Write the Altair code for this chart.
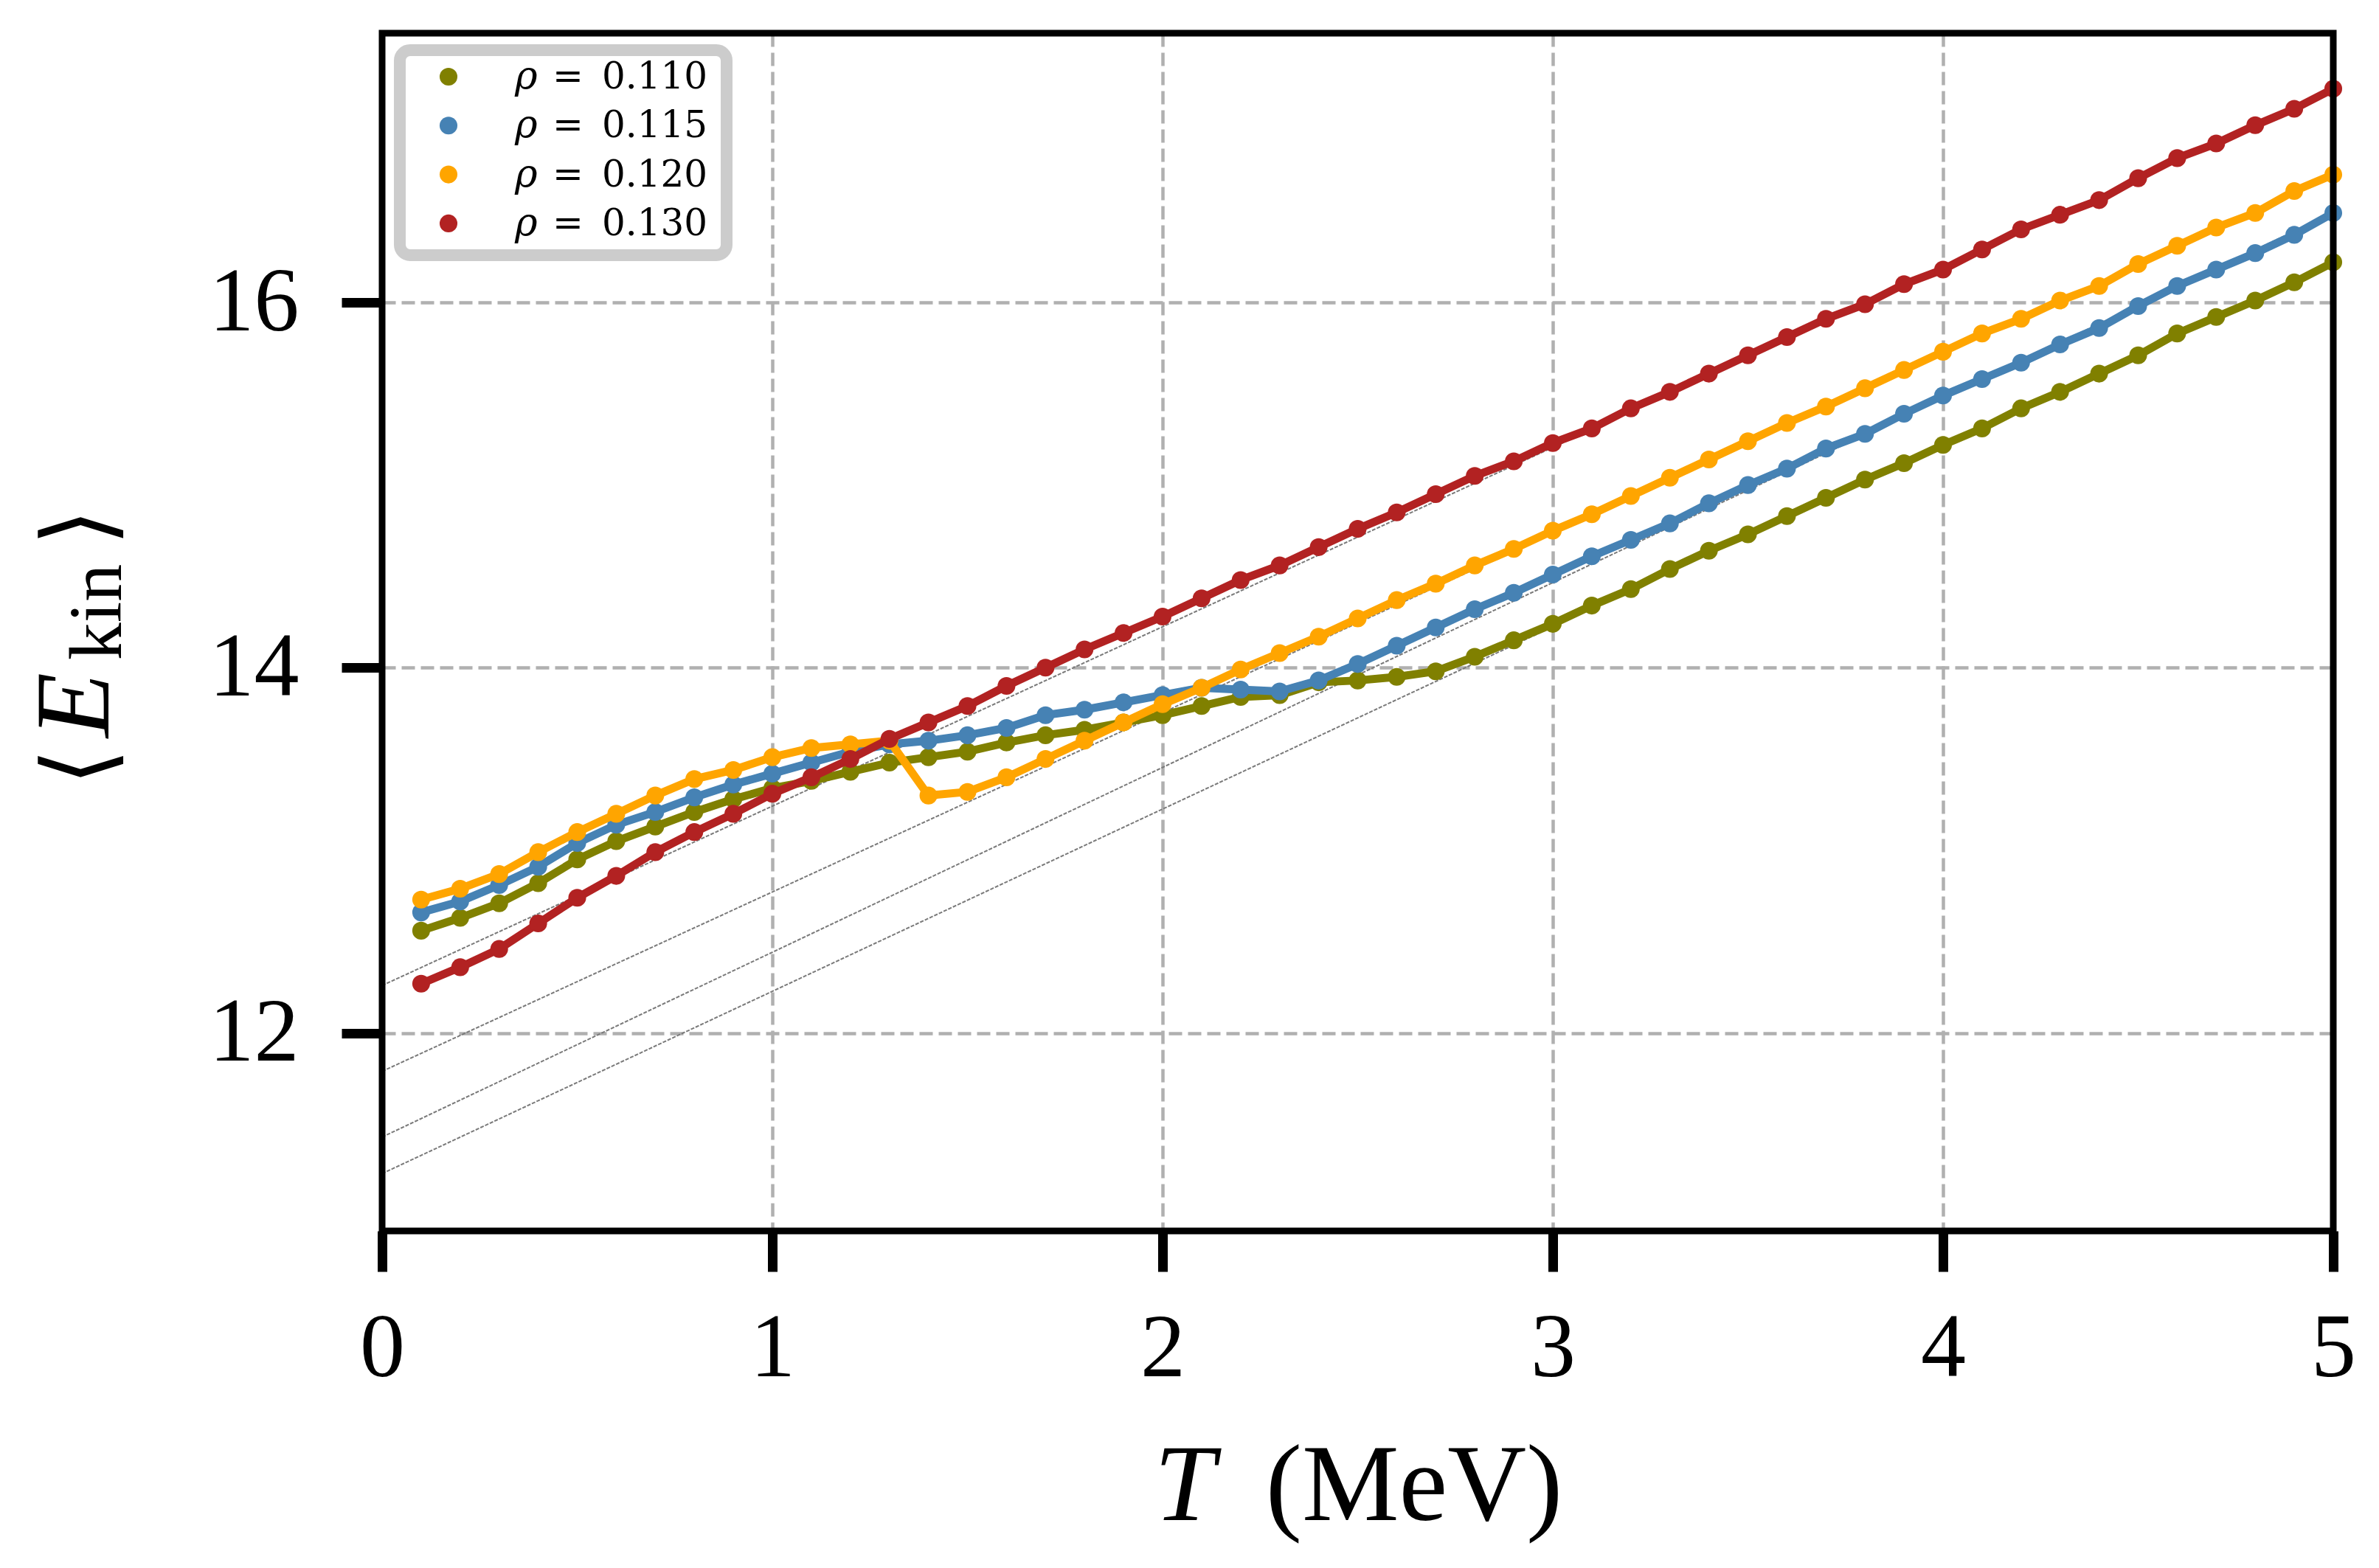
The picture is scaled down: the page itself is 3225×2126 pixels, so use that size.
import altair as alt
import pandas as pd

# temperature grid (MeV)
T = [0.1, 0.2, 0.3, 0.4, 0.5, 0.6, 0.7, 0.8, 0.9, 1.0,
     1.1, 1.2, 1.3, 1.4, 1.5, 1.6, 1.7, 1.8, 1.9, 2.0,
     2.1, 2.2, 2.3, 2.4, 2.5, 2.6, 2.7, 2.8, 2.9, 3.0,
     3.1, 3.2, 3.3, 3.4, 3.5, 3.6, 3.7, 3.8, 3.9, 4.0,
     4.1, 4.2, 4.3, 4.4, 4.5, 4.6, 4.7, 4.8, 4.9, 5.0]

# <E_kin> per density
E_110 = [12.56, 12.63, 12.71, 12.82, 12.95, 13.05, 13.13, 13.21, 13.28, 13.34,
         13.38, 13.43, 13.48, 13.51, 13.54, 13.59, 13.63, 13.66, 13.70, 13.74,
         13.79, 13.84, 13.85, 13.92, 13.93, 13.95, 13.98, 14.06, 14.15, 14.24,
         14.34, 14.43, 14.54, 14.64, 14.73, 14.83, 14.93, 15.03, 15.12, 15.22,
         15.31, 15.42, 15.51, 15.61, 15.71, 15.83, 15.92, 16.01, 16.11, 16.22]
E_115 = [12.66, 12.72, 12.81, 12.91, 13.04, 13.14, 13.21, 13.29, 13.36, 13.42,
         13.48, 13.54, 13.58, 13.60, 13.63, 13.67, 13.74, 13.77, 13.81, 13.85,
         13.89, 13.88, 13.87, 13.93, 14.02, 14.12, 14.22, 14.32, 14.41, 14.51,
         14.61, 14.70, 14.79, 14.90, 15.00, 15.09, 15.20, 15.28, 15.39, 15.49,
         15.58, 15.67, 15.77, 15.86, 15.98, 16.09, 16.18, 16.27, 16.37, 16.49]
E_120 = [12.73, 12.79, 12.87, 12.99, 13.10, 13.20, 13.30, 13.39, 13.44, 13.51,
         13.56, 13.58, 13.60, 13.30, 13.32, 13.40, 13.50, 13.60, 13.70, 13.80,
         13.89, 13.99, 14.08, 14.17, 14.27, 14.37, 14.46, 14.56, 14.65, 14.75,
         14.84, 14.94, 15.04, 15.14, 15.24, 15.34, 15.43, 15.53, 15.63, 15.73,
         15.83, 15.91, 16.01, 16.09, 16.21, 16.31, 16.41, 16.49, 16.61, 16.70]
E_130 = [12.27, 12.36, 12.46, 12.60, 12.74, 12.86, 12.99, 13.10, 13.20, 13.31,
         13.40, 13.50, 13.61, 13.70, 13.79, 13.90, 14.00, 14.10, 14.19, 14.28,
         14.38, 14.48, 14.56, 14.66, 14.76, 14.85, 14.95, 15.05, 15.13, 15.23,
         15.31, 15.42, 15.51, 15.61, 15.71, 15.81, 15.91, 15.99, 16.10, 16.18,
         16.29, 16.40, 16.48, 16.56, 16.68, 16.79, 16.87, 16.97, 17.06, 17.17]

densities = ["0.110", "0.115", "0.120", "0.130"]
colors = ["#808000", "#4682b4", "#ffa500", "#b22222"]

# linear high-T fits: value at T=0 and at T=5
fit_start = [11.23, 11.43, 11.79, 12.26]
fit_end = [16.22, 16.49, 16.70, 17.17]

series = [E_110, E_115, E_120, E_130]

W, H = 2645, 1624

x_scale = alt.Scale(domain=[0, 5], nice=False, zero=False)
y_scale = alt.Scale(domain=[10.916, 17.474], nice=False, zero=False)
x_axis = alt.Axis(values=[0, 1, 2, 3, 4, 5], format="d", labelPadding=45, labelFlush=False, title=None)
y_axis = alt.Axis(values=[12, 14, 16], format="d", labelPadding=58, title=None)
color = alt.Color("rho:N", scale=alt.Scale(domain=densities, range=colors), legend=None)

fit_df = pd.DataFrame({
    "T": [0, 5] * 4,
    "E": [v for a, b in zip(fit_start, fit_end) for v in (a, b)],
    "rho": [d for d in densities for _ in range(2)],
})
fits = alt.Chart(fit_df).mark_line(color="#7a7a7a", strokeWidth=2, strokeDash=[5, 2]).encode(
    x=alt.X("T:Q", scale=x_scale, axis=x_axis),
    y=alt.Y("E:Q", scale=y_scale, axis=y_axis),
    detail="rho:N",
)

layers = [fits]
for d, vals in zip(densities, series):
    df = pd.DataFrame({"T": T, "E": vals, "rho": d})
    base = alt.Chart(df).encode(
        x=alt.X("T:Q", scale=x_scale, axis=x_axis),
        y=alt.Y("E:Q", scale=y_scale, axis=y_axis),
        color=color,
    )
    layers.append(base.mark_line(strokeWidth=11))
    layers.append(base.mark_circle(size=580, opacity=1))

one = pd.DataFrame({"a": [0]})


def txt(s, x, y, size, angle=0, style="normal", font="Liberation Serif",
        baseline="alphabetic", align="center"):
    return alt.Chart(one).mark_text(
        text=s, font=font, fontSize=size, fontStyle=style, color="black",
        angle=angle, align=align, baseline=baseline,
    ).encode(x=alt.value(x), y=alt.value(y))


# legend: frame + entries
layers.append(alt.Chart(one).mark_rect(
    fill="white", stroke="#cccccc", strokeWidth=16, cornerRadius=14
).encode(x=alt.value(24), x2=alt.value(467), y=alt.value(23), y2=alt.value(301)))
for i, (d, c) in enumerate(zip(densities, colors)):
    row = 59 + 66.3 * i
    layers.append(alt.Chart(one).mark_circle(size=580, opacity=1, color=c).encode(
        x=alt.value(90), y=alt.value(row)))
    layers.append(txt("\u03c1", 180, row + 16, 52, style="italic", font="DejaVu Serif", align="left"))
    layers.append(txt("=", 252, row + 16, 50, font="DejaVu Serif"))
    layers.append(txt(d, 298, row + 16, 50, font="DejaVu Serif", align="left"))

# plot frame (spines) on top of the data
layers.append(alt.Chart(one).mark_rect(
    fill="white", fillOpacity=0, stroke="black", strokeWidth=9
).encode(x=alt.value(0), x2=alt.value(W), y=alt.value(0), y2=alt.value(H)))

# x title: T (MeV)
layers.append(txt("T", 1088, 2016, 148, style="italic"))
layers.append(txt("(MeV)", 1399, 2016, 148))
# y title: <E_kin>
layers.append(txt("\u27e8", -407, 995, 130, angle=270, font="DejaVu Sans", baseline="middle"))
layers.append(txt("E", -371, 911, 144, angle=270, style="italic"))
layers.append(txt("kin", -354, 785, 102, angle=270))
layers.append(txt("\u27e9", -407, 670, 130, angle=270, font="DejaVu Sans", baseline="middle"))

chart = alt.layer(*layers).properties(
    width=W, height=H, autosize="none",
    padding={"left": 510, "top": 37, "right": 54, "bottom": 449},
).configure_view(
    stroke=None
).configure_axis(
    domain=False, grid=True, gridColor="#b0b0b0", gridDash=[18, 8], gridWidth=4.5,
    tickColor="black", tickSize=55, tickWidth=13,
    labelFont="Liberation Serif", labelFontSize=122, labelColor="black",
)

chart.save("out.html", embed_options={"renderer": "svg", "actions": False})
